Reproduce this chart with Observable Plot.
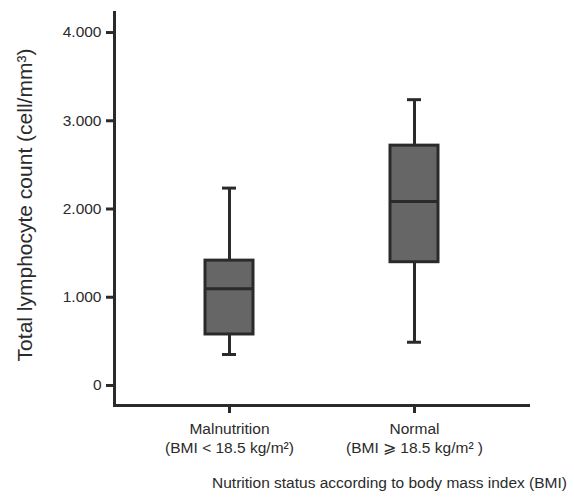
<!DOCTYPE html>
<html>
<head>
<meta charset="utf-8">
<script src="https://cdn.jsdelivr.net/npm/d3@7"></script>
<script src="https://cdn.jsdelivr.net/npm/@observablehq/plot@0.6"></script>
<style>
  html, body { margin: 0; padding: 0; background: #ffffff; }
  #chart svg { display: block; font-family: "Liberation Sans", Arial, sans-serif; }
</style>
</head>
<body>
<div id="chart"></div>
<script>
const categories = ["Malnutrition", "Normal"];
const xTickLabels = ["Malnutrition\n(BMI < 18.5 kg/m²)", "Normal\n(BMI ⩾ 18.5 kg/m² )"];
const whiskerLow = [351, 490];
const q1 = [578, 1397];
const median = [1095, 2084];
const q3 = [1415, 2718];
const whiskerHigh = [2237, 3239];
const yTicks = [0, 1000, 2000, 3000, 4000];
const yTickLabels = ["0", "1.000", "2.000", "3.000", "4.000"];
const yTitle = "Total lymphocyte count (cell/mm³)";
const xTitle = "Nutrition status according to body mass index (BMI)";

const data = categories.map((c, i) => ({
  cat: c, lo: whiskerLow[i], q1: q1[i], med: median[i], q3: q3[i], hi: whiskerHigh[i]
}));

const ink = "#2a2a2a";
const textInk = "#2b2b2b";

const chart = Plot.plot({
  width: 574,
  height: 502,
  marginLeft: 114,
  marginRight: 46,
  marginTop: 12,
  marginBottom: 97,
  style: { background: "#ffffff", fontFamily: "Liberation Sans, Arial, sans-serif" },
  x: { type: "band", domain: categories, paddingInner: 0.742, paddingOuter: 0.484, axis: null },
  y: { domain: [-227, 4227], axis: null },
  marks: [
    Plot.frame({ anchor: "left", stroke: ink, strokeWidth: 3 }),
    Plot.frame({ anchor: "bottom", stroke: ink, strokeWidth: 3 }),
    Plot.axisY(yTicks, {
      tickFormat: d => yTickLabels[yTicks.indexOf(d)],
      tickSize: 8, strokeWidth: 3, stroke: ink, tickPadding: 5,
      fontSize: 15.5, fill: textInk, label: null
    }),
    Plot.axisX(categories, {
      tickFormat: d => xTickLabels[categories.indexOf(d)],
      tickSize: 8, strokeWidth: 3, stroke: ink, tickPadding: 7,
      fontSize: 15.5, lineHeight: 1.22, fill: textInk, label: null
    }),
    Plot.ruleX(data, { x: "cat", y1: "lo", y2: "hi", stroke: ink, strokeWidth: 3 }),
    Plot.tickY(data, { x: "cat", y: "lo", stroke: ink, strokeWidth: 3, insetLeft: 17, insetRight: 17 }),
    Plot.tickY(data, { x: "cat", y: "hi", stroke: ink, strokeWidth: 3, insetLeft: 17, insetRight: 17 }),
    Plot.barY(data, { x: "cat", y1: "q1", y2: "q3", fill: "#666666", stroke: ink, strokeWidth: 3 }),
    Plot.tickY(data, { x: "cat", y: "med", stroke: ink, strokeWidth: 3 }),
    Plot.text([yTitle], {
      frameAnchor: "left", rotate: -90, dx: -89, dy: -4,
      fontSize: 21, fill: textInk, textAnchor: "middle"
    }),
    Plot.text([xTitle], {
      frameAnchor: "bottom", dx: 68, dy: 82,
      fontSize: 15.5, fill: textInk, textAnchor: "middle"
    })
  ]
});

document.getElementById("chart").appendChild(chart);
</script>
</body>
</html>
